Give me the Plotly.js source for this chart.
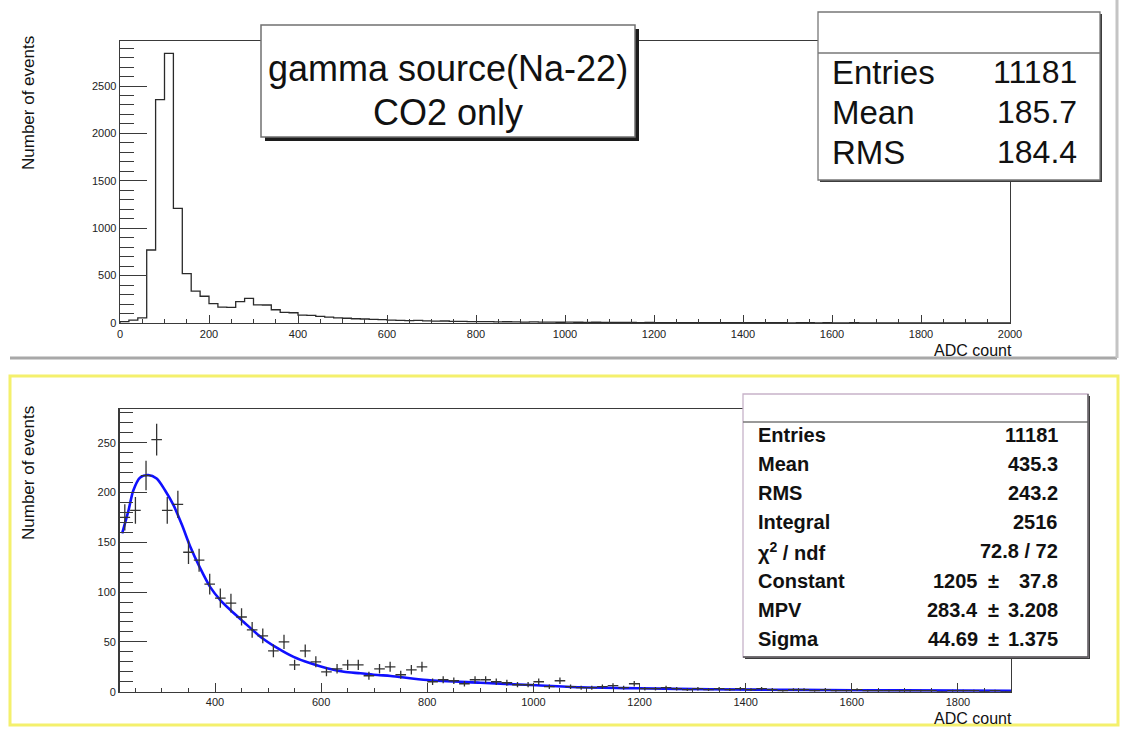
<!DOCTYPE html>
<html>
<head>
<meta charset="utf-8">
<script src="https://cdn.plot.ly/plotly-3.0.1.min.js"></script>
<style>
  html, body { margin: 0; padding: 0; background: #ffffff; }
  #chart { width: 1125px; height: 731px; }
</style>
</head>
<body>
<div id="chart"></div>
<script>
// ---------------- DATA ----------------
// Top histogram: 100 bins of 20 ADC counts, 0 .. 2000
const topBinLow = 0;
const topBinWidth = 20;
const topCounts = [
  15, 30, 55, 770, 2357, 2845, 1209, 520, 337, 282,
  205, 168, 165, 225, 260, 192, 190, 140, 112, 108,
  84, 80, 70, 62, 55, 50, 45, 42, 38, 35,
  30, 28, 25, 27, 22, 20, 21, 18, 17, 15,
  14, 15, 12, 13, 11, 10, 11, 9, 10, 8,
  9, 8, 7, 8, 7, 6, 7, 6, 5, 6,
  5, 5, 4, 5, 4, 4, 5, 3, 4, 4,
  3, 4, 3, 3, 3, 2, 3, 3, 2, 3,
  2, 2, 3, 2, 2, 2, 1, 2, 2, 2,
  1, 2, 1, 1, 2, 1, 1, 1, 1, 1
];
const topStatsLabels = ["Entries", "Mean", "RMS"];
const topStatsValues = ["11181", "185.7", "184.4"];
const topTitleLines = ["gamma source(Na-22)", "CO2 only"];

// Bottom histogram (points with errors): bins of 20 ADC, centres from 230
const botBinFirstCentre = 230;
const botBinWidth = 20;
const botCounts = [
  175, 182, 217, 253, 182, 188, 140, 132, 108, 94,
  89, 75, 62, 56, 41, 50, 27, 41, 30, 20,
  23, 27, 27, 16, 23, 25, 17, 22, 25, 10,
  12, 11, 8, 12, 12, 10, 9, 7, 7, 10,
  5, 11, 5, 4, 4, 5, 6, 4, 8, 3,
  3, 4, 3, 2, 3, 2, 3, 2, 3, 2,
  3, 2, 1, 2, 2, 1, 2, 1, 1, 2,
  1, 1, 1, 1, 1, 1, 1, 0, 1, 1,
  1, 0, 1, 0
];
// Landau fit curve
const fitX = [225, 237, 246, 259, 274, 290, 306, 322, 338, 353, 372, 391, 410, 429, 454, 486, 517, 548, 580, 611, 643, 674, 706, 731, 800, 900, 995, 1089, 1199, 1334, 1500, 1700, 1900];
const fitY = [159, 182, 202, 215, 217.5, 214, 202, 187, 167, 146, 124, 105, 92, 82, 70, 55, 44, 35, 28.5, 23.5, 20, 18.5, 16.8, 15.8, 11.7, 9, 6.7, 4.4, 3.4, 2.4, 1.8, 1.3, 1.0];

const botStatsLabels = ["Entries", "Mean", "RMS", "Integral", "\u03c7<sup>2</sup> / ndf", "Constant", "MPV", "Sigma"];
const botStatsValues = ["11181", "435.3", "243.2", "2516", "72.8 / 72", "1205", "283.4", "44.69"];
const botStatsErrors = ["", "", "", "", "", "37.8", "3.208", "1.375"];

const yTitle = "Number of events";
const xTitle = "ADC count";

// ---------------- BUILD ----------------
const W = 1125, H = 731;
const PX = x => x / W;
const PY = y => 1 - y / H;

// step outline of top histogram
const stepX = [topBinLow], stepY = [0];
topCounts.forEach((c, i) => { stepX.push(topBinLow + i * topBinWidth); stepY.push(c); });
const topHigh = topBinLow + topCounts.length * topBinWidth;
stepX.push(topHigh); stepY.push(topCounts[topCounts.length - 1]);
stepX.push(topHigh); stepY.push(0);

const botX = botCounts.map((c, i) => botBinFirstCentre + i * botBinWidth);
const botErr = botCounts.map(c => Math.sqrt(c));

const traces = [
  {
    type: 'scatter', mode: 'lines', x: stepX, y: stepY, xaxis: 'x', yaxis: 'y',
    line: { shape: 'hv', color: '#2a2a2a', width: 1.3 }, hoverinfo: 'skip'
  },
  {
    type: 'scatter', mode: 'lines', x: fitX, y: fitY, xaxis: 'x2', yaxis: 'y2',
    line: { shape: 'spline', smoothing: 0.8, color: '#1010ff', width: 2.6 }, hoverinfo: 'skip'
  },
  {
    type: 'scatter', mode: 'markers', x: botX, y: botCounts, xaxis: 'x2', yaxis: 'y2',
    marker: { size: 1, color: '#333' },
    error_y: { type: 'data', array: botErr, visible: true, color: '#333', thickness: 1.3, width: 0 },
    error_x: { type: 'constant', value: botBinWidth / 2, visible: true, color: '#333', thickness: 1.3, width: 0 },
    hoverinfo: 'skip'
  }
];

const tickFont = { family: 'Liberation Sans, Arial, sans-serif', size: 11, color: '#222' };
function axisBase(extra) {
  return Object.assign({
    showgrid: false, zeroline: false, showline: true, mirror: true,
    linecolor: '#3a3a3a', linewidth: 1.4, ticks: 'inside', tickcolor: '#3a3a3a',
    tickwidth: 1, tickfont: tickFont, fixedrange: true
  }, extra);
}

const layout = {
  width: W, height: H,
  margin: { l: 0, r: 0, t: 0, b: 0 },
  paper_bgcolor: '#ffffff', plot_bgcolor: '#ffffff',
  showlegend: false,
  xaxis: axisBase({ domain: [PX(120), PX(1010)], range: [0, 2000], anchor: 'y', dtick: 200, ticklen: 8.5,
    minor: { dtick: 50, ticklen: 4, ticks: 'inside', tickcolor: '#3a3a3a' } }),
  yaxis: axisBase({ domain: [PY(323), PY(41)], range: [0, 2975], anchor: 'x', dtick: 500, ticklen: 27,
    minor: { dtick: 100, ticklen: 13.5, ticks: 'inside', tickcolor: '#3a3a3a' } }),
  xaxis2: axisBase({ domain: [PX(119.5), PX(1011)], range: [220, 1900], anchor: 'y2', dtick: 200, tick0: 0, ticklen: 8.5,
    minor: { dtick: 50, ticklen: 4, ticks: 'inside', tickcolor: '#3a3a3a' } }),
  yaxis2: axisBase({ domain: [PY(691.7), PY(409.3)], range: [0, 283.5], anchor: 'x2', dtick: 50, ticklen: 27,
    minor: { dtick: 10, ticklen: 13.5, ticks: 'inside', tickcolor: '#3a3a3a' } }),
  shapes: [],
  annotations: []
};

function rect(x0, y0, x1, y1, line, fill, layer) {
  layout.shapes.push({ type: 'rect', xref: 'paper', yref: 'paper', x0: PX(x0), x1: PX(x1), y0: PY(y1), y1: PY(y0),
    line: line, fillcolor: fill || 'rgba(0,0,0,0)', layer: layer || 'above' });
}
function seg(x0, y0, x1, y1, color, width, layer) {
  layout.shapes.push({ type: 'line', xref: 'paper', yref: 'paper', x0: PX(x0), x1: PX(x1), y0: PY(y0), y1: PY(y1),
    line: { color: color, width: width }, layer: layer || 'above' });
}
function text(t, x, y, size, xanchor, opts) {
  layout.annotations.push(Object.assign({
    text: t, xref: 'paper', yref: 'paper', x: PX(x), y: PY(y), xanchor: xanchor, yanchor: 'middle',
    showarrow: false, font: { family: 'Liberation Sans, Arial, sans-serif', size: size, color: '#111' }
  }, opts || {}));
}

// pad borders
seg(10, 358, 1117, 358, '#a8a8a8', 3, 'below');
seg(1117, 0, 1117, 358, '#c4c4c4', 3, 'below');
rect(10, 376, 1118, 725, { color: '#f4f06c', width: 3 }, null, 'below');

// title box (top)
rect(265, 29, 639, 141, { width: 0 }, '#1c1c1c');
rect(261, 25, 635, 137, { color: '#707070', width: 1.5 }, '#ffffff');
text(topTitleLines[0], 448, 69, 36, 'center');
text(topTitleLines[1], 448, 112, 36, 'center');

// stats box (top)
rect(820, 14, 1102, 182, { width: 0 }, '#3c3c3c');
rect(818, 12, 1100, 180, { color: '#777', width: 1.3 }, '#ffffff');
seg(818, 53, 1100, 53, '#777', 1.3);
topStatsLabels.forEach((l, i) => {
  const y = 72 + i * 40;
  text(l, 830, y, 33, 'left');
  text(topStatsValues[i], 1079, y, 32, 'right');
});

// stats box (bottom)
rect(745, 396, 1090, 659, { width: 0 }, '#3c3c3c');
rect(743, 394, 1088, 657, { color: '#c7b3c9', width: 1.3 }, '#ffffff');
seg(743, 422, 1088, 422, '#777', 1.3);
seg(1088, 394, 1088, 657, '#555', 1.3);
seg(743, 657, 1088, 657, '#555', 1.3);
botStatsLabels.forEach((l, i) => {
  const y = 435 + i * 29.1;
  const f = { font: { family: 'Liberation Sans, Arial, sans-serif', size: 20, color: '#111', weight: 'bold' } };
  text(l, 756, y, 20, 'left', f);
  if (botStatsErrors[i]) {
    text(botStatsValues[i], 980, y, 20, 'right', f);
    text('\u00b1', 993, y, 20, 'center', f);
    text(botStatsErrors[i], 1060, y, 20, 'right', f);
  } else {
    text(botStatsValues[i], 1060, y, 20, 'right', f);
  }
});

// axis titles
text(yTitle, 28, 103, 17, 'center', { textangle: -90 });
text(yTitle, 28, 473, 17, 'center', { textangle: -90 });
text(xTitle, 1014, 350, 16, 'right');
text(xTitle, 1014, 718, 16, 'right');

Plotly.newPlot('chart', traces, layout, { displayModeBar: false, staticPlot: true });
</script>
</body>
</html>
